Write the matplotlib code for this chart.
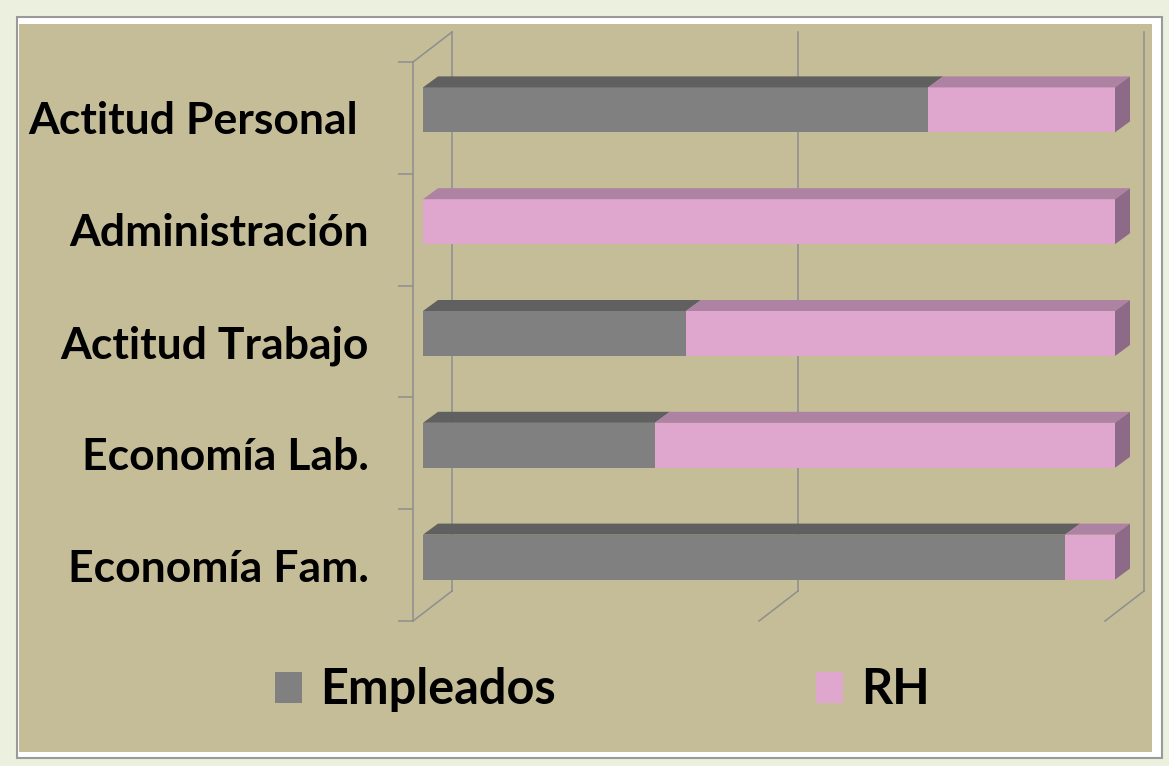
import matplotlib
matplotlib.use('Agg')
import matplotlib.pyplot as plt
from matplotlib.patches import Rectangle, Polygon, Patch

# ---------------- data ----------------
categories = ['Actitud Personal ', 'Administración', 'Actitud Trabajo', 'Economía Lab.', 'Economía Fam.']
series_names = ['Empleados', 'RH']
empleados = [0.73, 0.0, 0.38, 0.335, 0.928]
rh = [0.27, 1.0, 0.62, 0.665, 0.072]

# ---------------- style ----------------
W, H, DPI = 1169, 766, 100
FONT = 'Lato'
LABEL_SIZE = 32
LEGEND_SIZE = 35
c_front = ['#808080', '#DFA6CE']
c_top = ['#606060', '#AE82A3']
c_side = ['#505050', '#8D6A87']
grid_c = '#8E8E8E'

fig = plt.figure(figsize=(W / DPI, H / DPI), dpi=DPI)
fig.patch.set_facecolor('#EBF1DE')


def px_rect(x0, y0, x1, y1):
    return (x0 / W, 1 - y1 / H, (x1 - x0) / W, (y1 - y0) / H)


# panel frame
b = px_rect(17, 17, 1162, 758)
fig.add_artist(Rectangle(b[:2], b[2], b[3], transform=fig.transFigure,
                         facecolor='white', edgecolor='#9A9A9A', lw=1.5, zorder=0))
t = px_rect(19, 24, 1152, 752)
fig.add_artist(Rectangle(t[:2], t[2], t[3], transform=fig.transFigure,
                         facecolor='#C4BD97', edgecolor='none', zorder=0))

# axes: x 0..1 on front plane, categories on y
ax_l, ax_t, ax_r, ax_b = 413, 62, 1105, 621
ax = fig.add_axes(px_rect(ax_l, ax_t, ax_r, ax_b))
ax.patch.set_alpha(0)
n = len(categories)
ax.set_xlim(0, 1)
ax.set_ylim(n - 0.5, -0.5)
for s in ax.spines.values():
    s.set_visible(False)

# pixel -> data unit helpers for 3D depth offsets
px_x = 1.0 / (ax_r - ax_l)
px_y = n / (ax_b - ax_t)


def off(x, y, dxp, dyp):
    return (x + dxp * px_x, y - dyp * px_y)


lw = 1.1
# back wall verticals (depth offset 39px right, 30px up) and floor diagonals
for v in [0, 0.5, 1.0]:
    p0 = off(v, -0.5, 39, 30)
    p1 = off(v, n - 0.5, 39, 30)
    ax.plot([p0[0], p1[0]], [p0[1], p1[1]], color=grid_c, lw=lw, clip_on=False, zorder=1)
    ax.plot([v, p1[0]], [n - 0.5, p1[1]], color=grid_c, lw=lw, clip_on=False, zorder=1)
# left wall front edge and top diagonal
ax.plot([0, 0], [-0.5, n - 0.5], color=grid_c, lw=lw, clip_on=False, zorder=1)
q = off(0, -0.5, 39, 30)
ax.plot([0, q[0]], [-0.5, q[1]], color=grid_c, lw=lw, clip_on=False, zorder=1)

# ticks
ax.set_yticks(range(n))
ax.set_yticklabels(categories, fontfamily=FONT, fontweight='bold', fontsize=LABEL_SIZE)
ax.set_yticks([i - 0.5 for i in range(n + 1)], minor=True)
ax.tick_params(axis='y', which='major', length=0, pad=31.7)
ax.tick_params(axis='y', which='minor', length=10.8, width=lw, color=grid_c, direction='out')
ax.set_xticks([])

# bars (front faces shifted 10px right, 8px up; depth 15px right, 11px up)
bar_h = 45 * px_y
FX, FY = 10, 8
DX, DY = 15, 11
series = [empleados, rh]
for i in range(n):
    left = 0.0
    yc = off(0, i, FX, FY)[1]
    last_nonzero = max(k for k in range(len(series)) if series[k][i] > 0)
    for k, vals in enumerate(series):
        w = vals[i]
        if w <= 0:
            continue
        x0 = off(left, 0, FX, FY)[0]
        x1 = off(left + w, 0, FX, FY)[0]
        yt = yc - bar_h / 2
        yb = yc + bar_h / 2
        ax.add_patch(Rectangle((x0, yt), x1 - x0, bar_h, facecolor=c_front[k],
                               edgecolor='none', clip_on=False, zorder=3))
        ax.add_patch(Polygon([(x0, yt), (x1, yt), off(x1, yt, DX, DY), off(x0, yt, DX, DY)],
                             closed=True, facecolor=c_top[k], edgecolor='none',
                             clip_on=False, zorder=3))
        if k == last_nonzero:
            ax.add_patch(Polygon([(x1, yt), (x1, yb), off(x1, yb, DX, DY), off(x1, yt, DX, DY)],
                                 closed=True, facecolor=c_side[k], edgecolor='none',
                                 clip_on=False, zorder=3))
        left += w

# legend
handles = [Patch(facecolor=c_front[k], edgecolor='none') for k in range(2)]
fig.legend(handles, series_names, loc='center left',
           bbox_to_anchor=(275 / W, 1 - 690 / H), ncol=2, frameon=False,
           prop={'family': FONT, 'weight': 'bold', 'size': LEGEND_SIZE},
           handlelength=0.555, handleheight=0.6, handletextpad=0.37,
           columnspacing=5.35, borderpad=0, borderaxespad=0)

fig.savefig('out.png', dpi=DPI, facecolor=fig.get_facecolor())
